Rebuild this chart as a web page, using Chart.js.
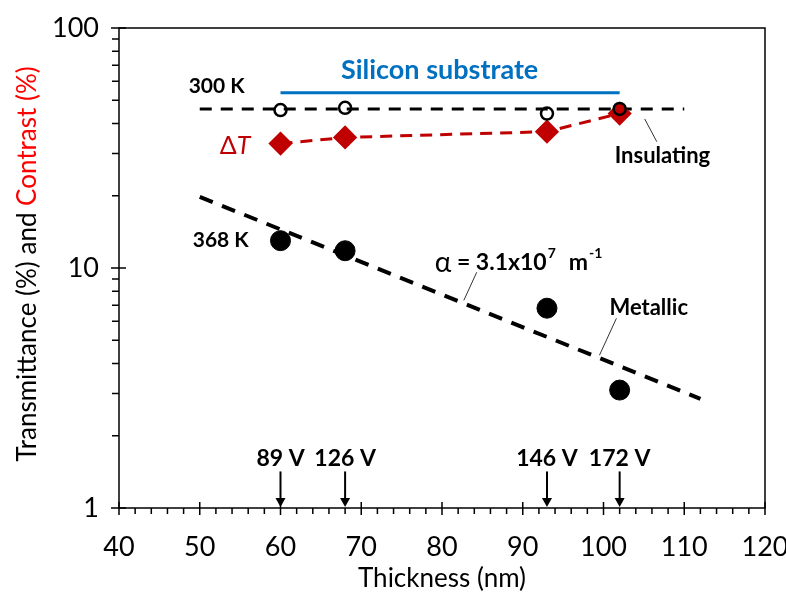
<!DOCTYPE html>
<html>
<head>
  <title>index</title>
  <script src="https://cdn.jsdelivr.net/npm/chart.js"></script>
  <style>
    body { margin: 0; background: #fff; }
    #wrap { width: 786px; height: 594px; }
  </style>
</head>
<body>
  <div id="wrap"><canvas id="chart"></canvas></div>

  <script>
    // thickness (nm) of the four films
    const thickness = [60, 68, 93, 102];
    // transmittance at 300 K (insulating) and 368 K (metallic), %
    const trans300K = [45.5, 46.5, 44, 46];
    const trans368K = [13, 11.8, 6.8, 3.1];
    // contrast between the two states, %
    const contrast = [33, 35, 37, 44];
    // exponential fit through the 368 K points (alpha = 3.1e7 1/m)
    const fitX = [50, 112];
    const fitY = [19.8, 2.85];
    // 300 K reference level
    const levelX = [50, 110];
    const levelY = [46, 46];
    // substrate transmittance
    const substrateX = [60, 102];
    const substrateY = [53.7, 53.7];
    // switching voltages for each film
    const voltages = ['89 V', '126 V', '146 V', '172 V'];

    const xTicks = [40, 50, 60, 70, 80, 90, 100, 110, 120];
    const yTicks = [1, 10, 100];

    const FONT = 'Lato, "Open Sans", sans-serif';
    const RED = '#c00000';
    const BLUE = '#0070c0';

    const pts = (xs, ys) => xs.map((x, i) => ({ x: x, y: ys[i] }));

    // box, tick marks, arrows and labels
    const decor = {
      id: 'decor',
      afterDraw(chart) {
        const ctx = chart.ctx;
        const xs = chart.scales.x, ys = chart.scales.y;
        const a = chart.chartArea;
        const X = v => xs.getPixelForValue(v);
        const Y = v => ys.getPixelForValue(v);

        ctx.save();
        ctx.strokeStyle = '#000';
        ctx.lineWidth = 1.5;
        ctx.strokeRect(a.left, a.top, a.right - a.left, a.bottom - a.top);

        // x ticks: majors cross the axis, minors hang below
        ctx.beginPath();
        for (let v = 40; v <= 120; v += 2) {
          const p = X(v);
          if (v % 10 === 0) { ctx.moveTo(p, a.bottom - 6); ctx.lineTo(p, a.bottom + 7); }
          else { ctx.moveTo(p, a.bottom); ctx.lineTo(p, a.bottom + 6); }
        }
        // y ticks on the left
        for (let d = 1; d < 100; d *= 10) {
          for (let k = 1; k <= 10; k++) {
            const p = Y(d * k);
            if (k === 1 || k === 10) { ctx.moveTo(a.left - 8, p); ctx.lineTo(a.left + 7, p); }
            else { ctx.moveTo(a.left - 7, p); ctx.lineTo(a.left, p); }
          }
        }
        ctx.stroke();

        // voltage arrows
        ctx.font = 'bold 23px ' + FONT;
        ctx.textAlign = 'center';
        ctx.textBaseline = 'middle';
        ctx.fillStyle = '#000';
        ctx.lineWidth = 2;
        thickness.forEach((t, i) => {
          const px = X(t);
          const top = Y(1.42), tip = Y(1);
          ctx.beginPath();
          ctx.moveTo(px, top); ctx.lineTo(px, tip - 8);
          ctx.stroke();
          ctx.beginPath();
          ctx.moveTo(px - 5, tip - 10); ctx.lineTo(px + 5, tip - 10); ctx.lineTo(px, tip - 1);
          ctx.closePath(); ctx.fill();
          ctx.fillText(voltages[i], px, Y(1.61));
        });

        // leader lines
        ctx.lineWidth = 1;
        ctx.strokeStyle = '#333';
        [[105.1, 41.8, 106.6, 33.6], [82.7, 7.33, 84.3, 9.6], [99.5, 4.33, 101.6, 6.17]].forEach(l => {
          ctx.beginPath();
          ctx.moveTo(X(l[0]), Y(l[1])); ctx.lineTo(X(l[2]), Y(l[3]));
          ctx.stroke();
        });

        // annotations
        ctx.fillStyle = '#000';
        ctx.font = 'bold 21px ' + FONT;
        ctx.fillText('300 K', X(52.1), Y(57.4));
        ctx.fillText('368 K', X(52.6), Y(13));
        ctx.font = 'bold 22px ' + FONT;
        ctx.fillText('Insulating', X(107.3), Y(29.4));
        ctx.fillText('Metallic', X(105.6), Y(6.85));

        ctx.fillStyle = BLUE;
        ctx.font = 'bold 27px ' + FONT;
        ctx.fillText('Silicon substrate', X(79.7), Y(66.9));

        ctx.fillStyle = RED;
        ctx.textAlign = 'left';
        ctx.font = '25px ' + FONT;
        ctx.fillText('\u0394', X(53.7) - 10, Y(32.3));
        ctx.font = 'italic 25px ' + FONT;
        ctx.fillText('T', X(53.7) + 7, Y(32.3));

        // alpha label with superscripts
        ctx.fillStyle = '#000';
        let lx = X(79.1);
        const ly = Y(10.5);
        ctx.font = '28px ' + FONT;
        ctx.fillText('\u03b1', lx, ly);
        lx += ctx.measureText('\u03b1').width;
        ctx.font = 'bold 23px ' + FONT;
        const s1 = ' = 3.1x10';
        ctx.fillText(s1, lx, ly);
        lx += ctx.measureText(s1).width;
        ctx.font = 'bold 14px ' + FONT;
        ctx.fillText('7', lx + 1, ly - 9);
        lx += 22;
        ctx.font = 'bold 23px ' + FONT;
        ctx.fillText('m', lx, ly);
        lx += ctx.measureText('m').width;
        ctx.font = 'bold 14px ' + FONT;
        ctx.fillText('-1', lx + 1, ly - 9);

        // two-colour y axis title
        ctx.translate(28, (a.top + a.bottom) / 2 - 4);
        ctx.rotate(-Math.PI / 2);
        ctx.font = '26px ' + FONT;
        const t1 = 'Transmittance (%) and ', t2 = 'Contrast (%)';
        const w1 = ctx.measureText(t1).width, w2 = ctx.measureText(t2).width;
        let sx = -(w1 + w2) / 2;
        ctx.fillStyle = '#000';
        ctx.fillText(t1, sx, 0);
        ctx.fillStyle = '#ff0000';
        ctx.fillText(t2, sx + w1, 0);
        ctx.restore();
      }
    };

    new Chart(document.getElementById('chart'), {
      type: 'scatter',
      data: {
        datasets: [
          {
            label: '300 K',
            data: pts(thickness, trans300K),
            pointStyle: 'circle', pointRadius: 6,
            pointBackgroundColor: 'rgba(0,0,0,0)',
            pointBorderColor: '#000', pointBorderWidth: 2.5,
            showLine: false
          },
          {
            label: 'contrast',
            data: pts(thickness, contrast),
            pointStyle: 'rectRot', pointRadius: 10,
            pointBackgroundColor: RED, pointBorderColor: RED,
            showLine: true, borderColor: RED, borderWidth: 3, borderDash: [12, 8]
          },
          {
            label: '300 K level',
            data: pts(levelX, levelY),
            pointRadius: 0, showLine: true,
            borderColor: '#000', borderWidth: 3, borderDash: [12, 9]
          },
          {
            label: 'substrate',
            data: pts(substrateX, substrateY),
            pointRadius: 0, showLine: true,
            borderColor: BLUE, borderWidth: 3
          },
          {
            label: '368 K',
            data: pts(thickness, trans368K),
            pointStyle: 'circle', pointRadius: 10,
            pointBackgroundColor: '#000', pointBorderColor: '#000',
            showLine: false
          },
          {
            label: 'fit',
            data: pts(fitX, fitY),
            pointRadius: 0, showLine: true,
            borderColor: '#000', borderWidth: 4, borderDash: [14, 10]
          }
        ]
      },
      options: {
        responsive: true,
        maintainAspectRatio: false,
        animation: false,
        layout: { padding: { top: 28, right: 21, bottom: 0, left: 0 } },
        plugins: { legend: { display: false }, tooltip: { enabled: false } },
        scales: {
          x: {
            type: 'linear', min: 40, max: 120,
            afterBuildTicks: s => { s.ticks = xTicks.map(v => ({ value: v })); },
            afterFit: s => { s.height = 86; s.paddingLeft = 0; s.paddingRight = 0; },
            grid: { display: false },
            border: { display: false },
            ticks: { color: '#000', font: { family: FONT, size: 27 }, padding: 15, maxRotation: 0 },
            title: {
              display: true, text: 'Thickness (nm)', color: '#000',
              font: { family: FONT, size: 26 }, padding: { top: 0, bottom: 0 }
            }
          },
          y: {
            type: 'logarithmic', min: 1, max: 100,
            afterBuildTicks: s => { s.ticks = yTicks.map(v => ({ value: v })); },
            afterFit: s => { s.width = 119; s.paddingTop = 0; s.paddingBottom = 0; },
            grid: { display: false },
            border: { display: false },
            ticks: {
              color: '#000', font: { family: FONT, size: 27 }, padding: 12,
              callback: v => String(v)
            }
          }
        }
      },
      plugins: [decor]
    });
  </script>
</body>
</html>
